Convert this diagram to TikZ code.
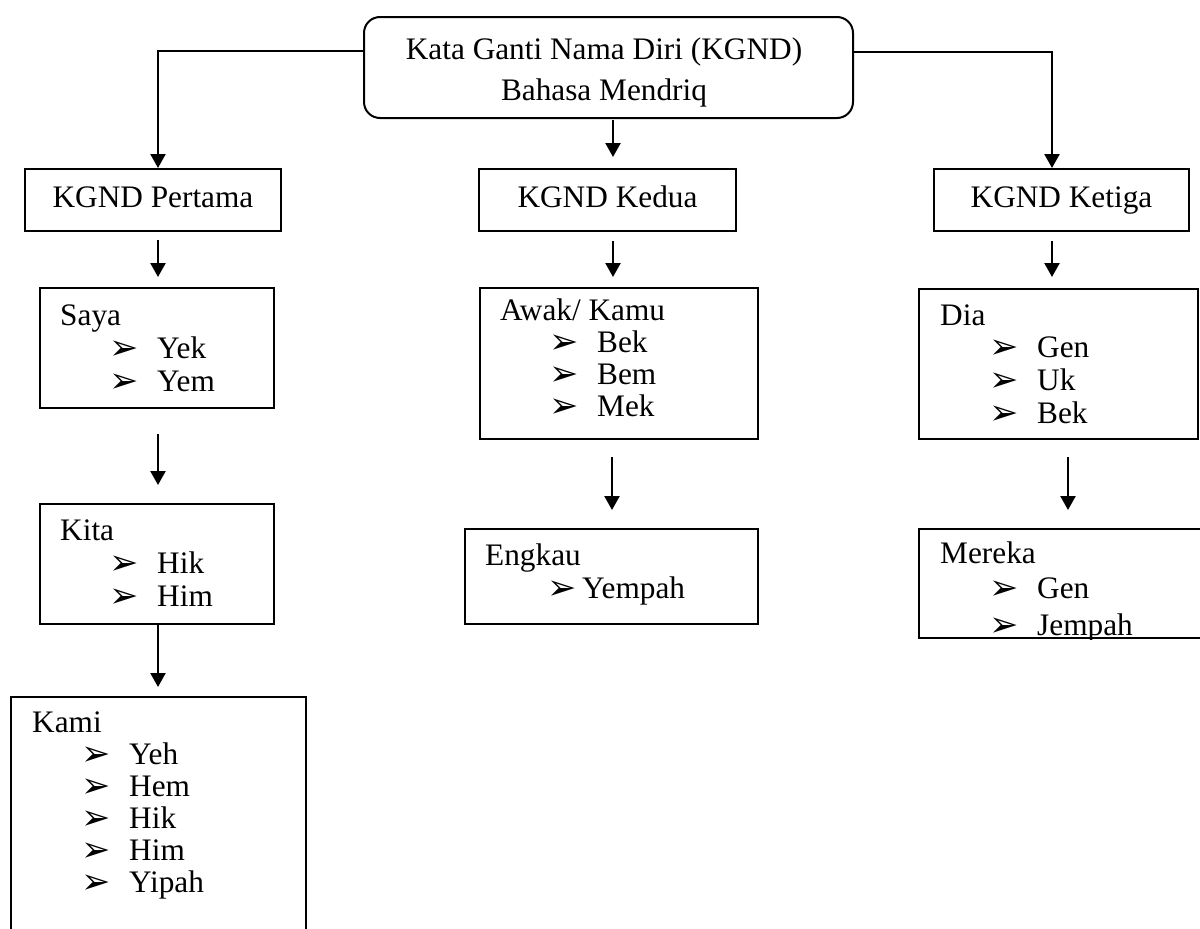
\documentclass[tikz,border=0pt]{standalone}
\usepackage{fontspec}
\setmainfont{Liberation Serif}
\newfontfamily\symfont{DejaVu Sans}
\usetikzlibrary{arrows.meta}
\newcommand{\bul}{\smash{\raisebox{-1pt}{\symfont\fontsize{35pt}{35pt}\selectfont\symbol{"27A2}}}}
\newcommand{\itm}[2][49pt]{\hspace*{#1}\makebox[\dimexpr97pt-#1\relax][l]{\bul}#2}
\newcommand{\lst}[1]{\begin{tabular}[t]{@{}l@{}}#1\end{tabular}}
\begin{document}
\begin{tikzpicture}[x=1pt,y=-1pt,
  every node/.style={font=\fontsize{31.3pt}{33pt}\selectfont},
  box/.style={draw,line width=2pt,inner sep=0pt,anchor=north west},
  head/.style={box,text height=21pt,text depth=7pt},
  lbl/.style={inner sep=0pt,anchor=base west},
  arr/.style={line width=2.4pt,-{Triangle[width=15pt,length=14pt]}}]
\useasboundingbox (0,0) rectangle (1200,929);

\node[box,rounded corners=16pt,minimum width=489pt,minimum height=101pt] (root) at (363,16) {};
\node[inner sep=0pt,align=center] (roottxt) at (604,72) {Kata Ganti Nama Diri (KGND)\\[8pt]Bahasa Mendriq};

\node[head,minimum width=256pt,minimum height=62pt] (pertama) at (24,168) {KGND Pertama};
\node[head,minimum width=257pt,minimum height=62pt] (kedua) at (478,168) {KGND Kedua};
\node[head,minimum width=255pt,minimum height=62pt] (ketiga) at (933,168) {KGND Ketiga};

\node[box,minimum width=234pt,minimum height=120pt] (saya) at (39,287) {};
\node[box,minimum width=234pt,minimum height=120pt] (kita) at (39,503) {};
\node[box,minimum width=295pt,minimum height=260pt] (kami) at (10,696) {};
\node[box,minimum width=278pt,minimum height=151pt] (awak) at (479,287) {};
\node[box,minimum width=293pt,minimum height=95pt] (engkau) at (464,528) {};
\node[box,minimum width=279pt,minimum height=150pt] (dia) at (918,288) {};
\node[box,minimum width=300pt,minimum height=109pt] (mereka) at (918,528) {};

\node[lbl] (sayatxt) at (60,325) {\lst{Saya\\ \itm{Yek}\\ \itm{Yem}}};
\node[lbl] (kitatxt) at (60,540) {\lst{Kita\\ \itm{Hik}\\ \itm{Him}}};
\node[lbl] (kamitxt) at (32,732) {\lst{Kami\\[-1pt] \itm{Yeh}\\[-1pt] \itm{Hem}\\[-1pt] \itm{Hik}\\[-1pt] \itm{Him}\\[-1pt] \itm{Yipah}}};
\node[lbl] (awaktxt) at (500,320) {\lst{Awak/ Kamu\\[-1pt] \itm{Bek}\\[-1pt] \itm{Bem}\\[-1pt] \itm{Mek}}};
\node[lbl] (engkautxt) at (485,565) {\lst{Engkau\\ \itm[62pt]{Yempah}}};
\node[lbl] (diatxt) at (940,325) {\lst{Dia\\[-1pt] \itm{Gen}\\ \itm{Uk}\\ \itm{Bek}}};
\begin{scope}
\clip (mereka.north west) rectangle (mereka.south east);
\node[lbl] (merekatxt) at (940,563) {\lst{Mereka\\[2pt] \itm{Gen}\\[4pt] \itm{Jempah}}};
\end{scope}

\draw[arr] ([yshift=16.5pt]root.west) -| ([xshift=5pt]pertama.north);
\draw[arr] ([yshift=15.5pt]root.east) -| ([xshift=-9.5pt]ketiga.north);
\draw[arr,shorten <=1pt,shorten >=11pt] ([xshift=4.5pt]root.south) -- ([xshift=4.5pt]root.south |- kedua.north);
\draw[arr,shorten <=8pt,shorten >=10pt] ([xshift=5pt]pertama.south) -- ([xshift=5pt]pertama.south |- saya.north);
\draw[arr,shorten <=25pt,shorten >=18pt] ([xshift=1pt]saya.south) -- ([xshift=1pt]saya.south |- kita.north);
\draw[arr,shorten >=9pt] ([xshift=1pt]kita.south) -- ([xshift=1pt]kita.south |- kami.north);
\draw[arr,shorten <=9pt,shorten >=10pt] ([xshift=5.5pt]kedua.south) -- ([xshift=5.5pt]kedua.south |- awak.north);
\draw[arr,shorten <=17pt,shorten >=18pt] ([xshift=-7pt]awak.south) -- ([xshift=-7pt]awak.south |- engkau.north);
\draw[arr,shorten <=9pt,shorten >=11pt] ([xshift=-9.5pt]ketiga.south) -- ([xshift=-9.5pt]ketiga.south |- dia.north);
\draw[arr,shorten <=17pt,shorten >=18pt] ([xshift=9.5pt]dia.south) -- ([xshift=9.5pt]dia.south |- mereka.north);
\end{tikzpicture}
\end{document}
